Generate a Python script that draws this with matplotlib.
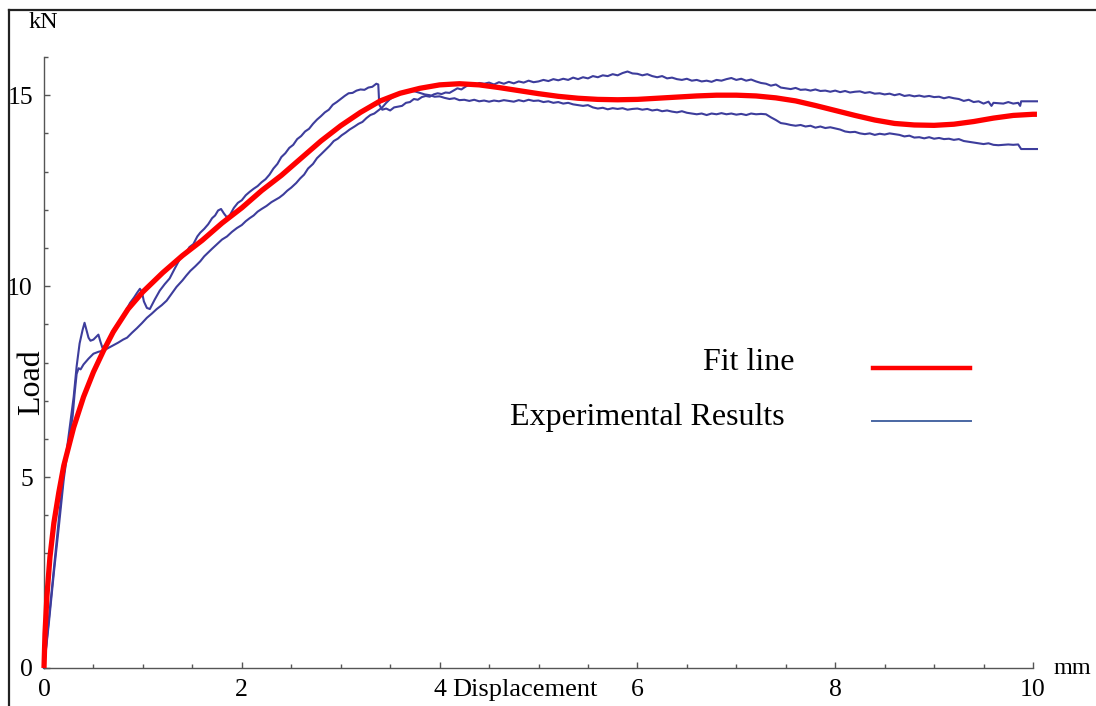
import matplotlib
matplotlib.use("Agg")
import matplotlib.pyplot as plt
from matplotlib.lines import Line2D
from matplotlib.ticker import MultipleLocator

plt.rcParams['font.family'] = ['Liberation Serif', 'DejaVu Serif']

# ---------------- data ----------------
fit_x = [0, 0.01, 0.03, 0.06, 0.1, 0.15, 0.2, 0.3, 0.4, 0.5, 0.6, 0.7, 0.85, 1.0, 1.2, 1.4,
         1.6, 1.8, 2.0, 2.2, 2.4, 2.6, 2.8, 3.0, 3.2, 3.4, 3.6, 3.8, 4.0, 4.2, 4.4, 4.6,
         4.8, 5.0, 5.2, 5.4, 5.6, 5.8, 6.0, 6.2, 6.4, 6.6, 6.8, 7.0, 7.2, 7.4, 7.6, 7.8,
         8.0, 8.2, 8.4, 8.6, 8.8, 9.0, 9.2, 9.4, 9.6, 9.8, 10.0, 10.04]
fit_y = [0, 0.9, 1.9, 2.9, 3.8, 4.6, 5.3, 6.3, 7.1, 7.75, 8.3, 8.8, 9.4, 9.85, 10.35, 10.8,
         11.2, 11.65, 12.05, 12.5, 12.9, 13.35, 13.8, 14.2, 14.55, 14.85, 15.05, 15.18, 15.27, 15.3, 15.27, 15.2,
         15.12, 15.04, 14.97, 14.92, 14.89, 14.88, 14.89, 14.92, 14.95, 14.98, 15.0, 15.0, 14.98, 14.93, 14.85, 14.73,
         14.6, 14.47, 14.35, 14.26, 14.22, 14.21, 14.24, 14.31, 14.4, 14.47, 14.5, 14.5]

expA_x = [0, 0.05, 0.1, 0.15, 0.2, 0.25, 0.3, 0.33, 0.36, 0.39, 0.41, 0.43, 0.45, 0.47, 0.5, 0.53,
          0.55, 0.57, 0.59, 0.62, 0.66, 0.70, 0.74, 0.78, 0.82, 0.87, 0.91, 0.94, 0.97, 0.99, 1.01, 1.04,
          1.07, 1.12, 1.17, 1.22, 1.27, 1.32, 1.38, 1.43, 1.47, 1.51, 1.55, 1.58, 1.62, 1.66,
          1.70, 1.73, 1.76, 1.79, 1.82, 1.85, 1.88, 1.92, 1.96, 2.00, 2.04, 2.08, 2.12, 2.16,
          2.20, 2.24, 2.28, 2.32, 2.36, 2.40, 2.44, 2.48, 2.52, 2.56, 2.60, 2.64, 2.68, 2.72,
          2.76, 2.80, 2.84, 2.88, 2.92, 2.96, 3.00, 3.04, 3.08, 3.12, 3.16, 3.20, 3.24, 3.28,
          3.32, 3.36, 3.38, 3.39, 3.42, 3.46, 3.50, 3.54, 3.58, 3.62, 3.66, 3.70, 3.74, 3.78,
          3.82, 3.86, 3.90, 3.94, 3.98, 4.02, 4.06, 4.10, 4.14, 4.18, 4.22, 4.26, 4.30, 4.35,
          4.40, 4.45, 4.50, 4.55, 4.60, 4.65, 4.70, 4.75, 4.80, 4.85, 4.90, 4.95, 5.00, 5.05,
          5.10, 5.15, 5.20, 5.25, 5.30, 5.35, 5.40, 5.45, 5.50, 5.55, 5.60, 5.65, 5.70, 5.75,
          5.80, 5.85, 5.90, 5.95, 6.00, 6.05, 6.10, 6.15, 6.20, 6.25, 6.30, 6.35, 6.40, 6.45,
          6.50, 6.55, 6.60, 6.65, 6.70, 6.75, 6.80, 6.85, 6.90, 6.95, 7.00, 7.05, 7.10, 7.15,
          7.20, 7.25, 7.30, 7.35, 7.40, 7.45, 7.50, 7.55, 7.60, 7.65, 7.70, 7.75, 7.80, 7.85,
          7.90, 7.95, 8.00, 8.05, 8.10, 8.15, 8.20, 8.25, 8.30, 8.35, 8.40, 8.45, 8.50, 8.55,
          8.60, 8.65, 8.70, 8.75, 8.80, 8.85, 8.90, 8.95, 9.00, 9.05, 9.10, 9.15, 9.20, 9.25,
          9.30, 9.35, 9.40, 9.45, 9.50, 9.55, 9.58, 9.60, 9.70, 9.75, 9.80, 9.85, 9.87, 9.88, 10.04]
expA_y = [0, 1.3, 2.6, 3.9, 5.1, 6.1, 7.1, 7.9, 8.5, 8.85, 9.04, 8.85, 8.65, 8.57, 8.6, 8.68,
          8.73, 8.55, 8.39, 8.45, 8.65, 8.85, 9.0, 9.15, 9.32, 9.56, 9.7, 9.82, 9.93, 9.85, 9.6, 9.43,
          9.4, 9.65, 9.88, 10.05, 10.2, 10.45, 10.74, 10.85, 11.02, 11.10, 11.30, 11.40, 11.50, 11.62,
          11.78, 11.85, 11.98, 12.02, 11.90, 11.80, 11.86, 12.05, 12.18, 12.25, 12.38, 12.47, 12.55, 12.62,
          12.72, 12.80, 12.92, 13.08, 13.20, 13.38, 13.48, 13.62, 13.70, 13.85, 13.93, 14.05, 14.12, 14.25,
          14.36, 14.45, 14.55, 14.62, 14.75, 14.82, 14.90, 14.98, 15.05, 15.06, 15.12, 15.15, 15.14, 15.20,
          15.22, 15.30, 15.28, 14.75, 14.62, 14.65, 14.60, 14.68, 14.70, 14.72, 14.80, 14.82, 14.90, 14.88,
          14.95, 14.98, 14.96, 15.02, 15.05, 15.03, 15.07, 15.06, 15.12, 15.18, 15.15, 15.22, 15.28, 15.24,
          15.32, 15.30, 15.33, 15.28, 15.34, 15.30, 15.35, 15.31, 15.36, 15.33, 15.38, 15.34, 15.36, 15.40,
          15.37, 15.42, 15.39, 15.43, 15.40, 15.46, 15.42, 15.47, 15.44, 15.50, 15.47, 15.52, 15.50, 15.55,
          15.52, 15.58, 15.62, 15.57, 15.56, 15.52, 15.55, 15.50, 15.47, 15.50, 15.44, 15.46, 15.42, 15.40,
          15.43, 15.38, 15.40, 15.36, 15.38, 15.35, 15.40, 15.38, 15.42, 15.45, 15.40, 15.43, 15.38, 15.41,
          15.36, 15.32, 15.30, 15.25, 15.28, 15.20, 15.18, 15.16, 15.19, 15.14, 15.15, 15.12, 15.15, 15.11,
          15.12, 15.09, 15.12, 15.08, 15.11, 15.07, 15.09, 15.10, 15.06, 15.08, 15.04, 15.05, 15.02, 15.04,
          15.00, 15.03, 14.98, 15.00, 14.97, 14.99, 14.96, 14.98, 14.95, 14.96, 14.92, 14.95, 14.92, 14.90,
          14.85, 14.88, 14.82, 14.84, 14.78, 14.83, 14.72, 14.80, 14.78, 14.82, 14.78, 14.80, 14.72, 14.84, 14.84]

expB_x = [0, 0.05, 0.1, 0.15, 0.2, 0.25, 0.29, 0.31, 0.33, 0.35, 0.37, 0.40, 0.45, 0.50, 0.55, 0.60,
          0.65, 0.70, 0.75, 0.80, 0.84, 0.89, 0.94, 0.99, 1.04, 1.09, 1.14, 1.19, 1.24, 1.29, 1.34,
          1.40, 1.44, 1.48, 1.53, 1.58, 1.62, 1.66, 1.70, 1.75, 1.80, 1.85, 1.90, 1.95, 2.00,
          2.04, 2.08, 2.12, 2.16, 2.20, 2.25, 2.30, 2.34, 2.38, 2.42, 2.46, 2.50, 2.55, 2.59,
          2.63, 2.67, 2.72, 2.76, 2.80, 2.85, 2.89, 2.93, 2.97, 3.01, 3.05, 3.09, 3.14, 3.18,
          3.22, 3.26, 3.30, 3.34, 3.38, 3.42, 3.46, 3.50, 3.55, 3.60, 3.65, 3.70, 3.75, 3.80,
          3.85, 3.90, 3.95, 4.00, 4.05, 4.10, 4.15, 4.20, 4.25, 4.30, 4.35, 4.40, 4.45, 4.50,
          4.55, 4.60, 4.65, 4.70, 4.75, 4.80, 4.85, 4.90, 4.95, 5.00, 5.05, 5.10, 5.15, 5.20,
          5.25, 5.30, 5.35, 5.40, 5.45, 5.50, 5.55, 5.60, 5.65, 5.70, 5.75, 5.80, 5.85, 5.90,
          5.95, 6.00, 6.05, 6.10, 6.15, 6.20, 6.25, 6.30, 6.35, 6.40, 6.45, 6.50, 6.55, 6.60,
          6.65, 6.70, 6.75, 6.80, 6.85, 6.90, 6.95, 7.00, 7.05, 7.10, 7.15, 7.20, 7.25, 7.30,
          7.35, 7.40, 7.45, 7.50, 7.55, 7.60, 7.65, 7.70, 7.75, 7.80, 7.85, 7.90, 7.95, 8.00,
          8.05, 8.10, 8.15, 8.20, 8.25, 8.30, 8.35, 8.40, 8.45, 8.50, 8.55, 8.60, 8.65, 8.70,
          8.75, 8.80, 8.85, 8.90, 8.95, 9.00, 9.05, 9.10, 9.15, 9.20, 9.25, 9.30, 9.35, 9.40,
          9.45, 9.50, 9.55, 9.60, 9.65, 9.70, 9.75, 9.80, 9.85, 9.88, 10.04]
expB_y = [0, 1.2, 2.5, 3.7, 4.95, 5.9, 6.6, 7.2, 7.7, 7.85, 7.82, 7.95, 8.1, 8.23, 8.28, 8.31,
          8.38, 8.45, 8.52, 8.60, 8.65, 8.78, 8.90, 9.03, 9.17, 9.28, 9.40, 9.50, 9.62, 9.80, 9.98,
          10.15, 10.28, 10.40, 10.52, 10.65, 10.78, 10.88, 10.98, 11.10, 11.22, 11.30, 11.42, 11.52, 11.60,
          11.70, 11.78, 11.85, 11.95, 12.02, 12.10, 12.20, 12.26, 12.32, 12.40, 12.50, 12.58, 12.70, 12.82,
          12.92, 13.08, 13.20, 13.35, 13.45, 13.58, 13.68, 13.80, 13.86, 13.95, 14.02, 14.10, 14.18, 14.25,
          14.30, 14.40, 14.48, 14.52, 14.60, 14.68, 14.80, 14.90, 14.98, 15.03, 15.08, 15.12, 15.10, 15.06,
          15.02, 15.00, 14.96, 14.97, 14.93, 14.90, 14.92, 14.87, 14.88, 14.85, 14.88, 14.84, 14.86, 14.83,
          14.86, 14.84, 14.87, 14.85, 14.83, 14.87, 14.84, 14.88, 14.85, 14.86, 14.82, 14.84, 14.80, 14.82,
          14.78, 14.80, 14.76, 14.74, 14.72, 14.74, 14.68, 14.65, 14.67, 14.63, 14.66, 14.64, 14.66, 14.62,
          14.64, 14.65, 14.62, 14.64, 14.60, 14.62, 14.58, 14.60, 14.57, 14.55, 14.58, 14.54, 14.52, 14.50,
          14.52, 14.48, 14.52, 14.50, 14.53, 14.50, 14.52, 14.49, 14.51, 14.48, 14.52, 14.50, 14.51, 14.50,
          14.42, 14.35, 14.27, 14.25, 14.22, 14.20, 14.22, 14.18, 14.20, 14.15, 14.18, 14.14, 14.16, 14.13,
          14.10, 14.05, 14.03, 14.04, 14.00, 13.98, 14.00, 13.96, 13.99, 13.97, 14.00, 13.98, 13.96, 13.92,
          13.94, 13.89, 13.90, 13.87, 13.90, 13.86, 13.88, 13.85, 13.86, 13.83, 13.85, 13.80, 13.78, 13.76,
          13.74, 13.72, 13.74, 13.70, 13.69, 13.70, 13.71, 13.70, 13.71, 13.59, 13.59]

x_major = [0, 2, 4, 6, 8, 10]
y_major = [0, 5, 10, 15]
labels = ["Fit line", "Experimental Results"]

# ---------------- figure ----------------
W, H = 1096, 706
fig = plt.figure(figsize=(W / 100, H / 100), dpi=100)
ax = fig.add_axes([44 / W, 1 - 668 / H, (1033 - 44) / W, (668 - 57) / H])

blue = '#3d3d9c'
red = '#ff0000'
ax.plot(expA_x, expA_y, color=blue, lw=1.5, clip_on=False, zorder=2)
ax.plot(expB_x, expB_y, color=blue, lw=1.5, clip_on=False, zorder=2)
ax.plot(fit_x, fit_y, color=red, lw=3.8, clip_on=False, zorder=3,
        solid_capstyle='butt')

ax.set_xlim(0, 10)
ax.set_ylim(0, 16)
for s in ['top', 'right']:
    ax.spines[s].set_visible(False)
for s in ['left', 'bottom']:
    ax.spines[s].set_color('#555555')
    ax.spines[s].set_linewidth(1.0)

ax.set_xticks(x_major)
ax.set_yticks(y_major)
ax.xaxis.set_minor_locator(MultipleLocator(0.5))
ax.yaxis.set_minor_locator(MultipleLocator(1))
ax.tick_params(which='both', direction='in', color='#555555', width=1.0)
ax.tick_params(which='major', length=4.5)
ax.tick_params(which='minor', length=3)
ax.tick_params(axis='x', which='major', labelsize=18.5, pad=8)
ax.tick_params(axis='y', which='major', labelsize=18.5, pad=8)

def fpx(x, y):
    return x / W, 1 - y / H

fig.text(*fpx(43, 22), "kN", fontsize=17.5, ha='center', va='center')
fig.text(*fpx(1072, 668), "mm", fontsize=17.5, ha='center', va='center')
fig.text(*fpx(32, 382), "Load", fontsize=23, rotation=90, ha='center', va='center')
fig.text(*fpx(525, 690), "Displacement", fontsize=19, ha='center', va='center')

# legend
fig.text(*fpx(703, 363), labels[0], fontsize=23, ha='left', va='center')
fig.text(*fpx(510, 418), labels[1], fontsize=23, ha='left', va='center')
fig.add_artist(Line2D([873 / W, 970 / W], [1 - 368 / H, 1 - 368 / H], color=red, lw=3.2))
fig.add_artist(Line2D([872 / W, 971 / W], [1 - 421 / H, 1 - 421 / H], color='#4a67a3', lw=1.4))

# outer frame (top and left edges visible)
fig.add_artist(Line2D([9 / W, 1.0], [1 - 10 / H, 1 - 10 / H], color='#222222', lw=1.6))
fig.add_artist(Line2D([9 / W, 9 / W], [0, 1 - 10 / H], color='#222222', lw=1.6))

fig.savefig("out.png", dpi=100)
